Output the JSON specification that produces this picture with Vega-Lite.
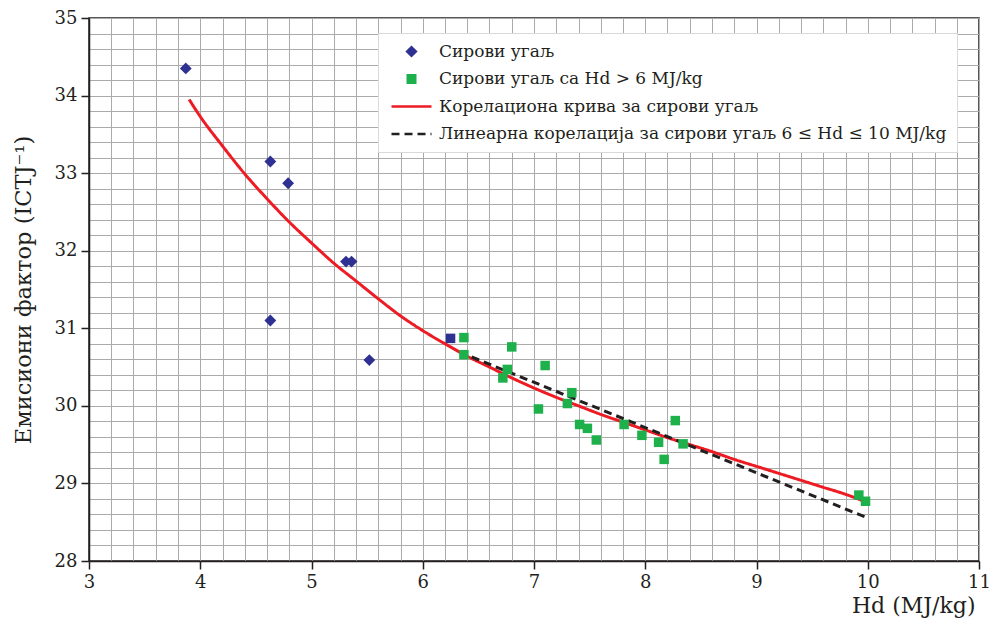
{
  "$schema": "https://vega.github.io/schema/vega-lite/v6.json",
  "width": 890,
  "height": 543,
  "autosize": {"type": "none"},
  "padding": {"left": 89, "top": 18, "right": 10, "bottom": 62},
  "background": "white",
  "config": {
    "font": "DejaVu Serif",
    "view": {"stroke": "#231f20", "strokeWidth": 1.5},
    "axis": {
      "grid": true,
      "gridColor": "#aaaaaa",
      "gridWidth": 1,
      "domainColor": "#231f20",
      "domainWidth": 1.5,
      "tickColor": "#231f20",
      "tickWidth": 1.5,
      "tickSize": 8,
      "labelFontSize": 18,
      "labelColor": "#231f20",
      "labelOverlap": false,
      "labelBound": false,
      "labelFlush": false,
      "titleFontWeight": "normal",
      "titleColor": "#231f20"
    },
    "legend": {
      "orient": "none",
      "legendX": 289,
      "legendY": 15,
      "fillColor": "white",
      "strokeColor": "#d9d9d9",
      "padding": 10,
      "labelFontSize": 17,
      "labelColor": "#231f20",
      "labelLimit": 800,
      "rowPadding": 9.5,
      "symbolSize": 900,
      "symbolStrokeWidth": 0,
      "symbolOffset": 15,
      "labelOffset": 19
    }
  },
  "datasets": {
    "pts": [
      {"x": 3.87, "y": 34.35, "series": "Сирови угаљ", "sq": false},
      {"x": 4.63, "y": 33.15, "series": "Сирови угаљ", "sq": false},
      {"x": 4.79, "y": 32.87, "series": "Сирови угаљ", "sq": false},
      {"x": 5.31, "y": 31.86, "series": "Сирови угаљ", "sq": false},
      {"x": 5.36, "y": 31.86, "series": "Сирови угаљ", "sq": false},
      {"x": 4.63, "y": 31.10, "series": "Сирови угаљ", "sq": false},
      {"x": 5.52, "y": 30.59, "series": "Сирови угаљ", "sq": false},
      {"x": 6.25, "y": 30.87, "series": "Сирови угаљ", "sq": true},
      {"x": 6.37, "y": 30.88, "series": "Сирови угаљ са Hd > 6 MJ/kg", "sq": false},
      {"x": 6.37, "y": 30.66, "series": "Сирови угаљ са Hd > 6 MJ/kg", "sq": false},
      {"x": 6.80, "y": 30.76, "series": "Сирови угаљ са Hd > 6 MJ/kg", "sq": false},
      {"x": 6.76, "y": 30.47, "series": "Сирови угаљ са Hd > 6 MJ/kg", "sq": false},
      {"x": 6.72, "y": 30.36, "series": "Сирови угаљ са Hd > 6 MJ/kg", "sq": false},
      {"x": 7.10, "y": 30.52, "series": "Сирови угаљ са Hd > 6 MJ/kg", "sq": false},
      {"x": 7.04, "y": 29.96, "series": "Сирови угаљ са Hd > 6 MJ/kg", "sq": false},
      {"x": 7.34, "y": 30.17, "series": "Сирови угаљ са Hd > 6 MJ/kg", "sq": false},
      {"x": 7.30, "y": 30.03, "series": "Сирови угаљ са Hd > 6 MJ/kg", "sq": false},
      {"x": 7.41, "y": 29.76, "series": "Сирови угаљ са Hd > 6 MJ/kg", "sq": false},
      {"x": 7.48, "y": 29.71, "series": "Сирови угаљ са Hd > 6 MJ/kg", "sq": false},
      {"x": 7.56, "y": 29.56, "series": "Сирови угаљ са Hd > 6 MJ/kg", "sq": false},
      {"x": 7.81, "y": 29.76, "series": "Сирови угаљ са Hd > 6 MJ/kg", "sq": false},
      {"x": 7.97, "y": 29.62, "series": "Сирови угаљ са Hd > 6 MJ/kg", "sq": false},
      {"x": 8.12, "y": 29.53, "series": "Сирови угаљ са Hd > 6 MJ/kg", "sq": false},
      {"x": 8.17, "y": 29.31, "series": "Сирови угаљ са Hd > 6 MJ/kg", "sq": false},
      {"x": 8.27, "y": 29.81, "series": "Сирови угаљ са Hd > 6 MJ/kg", "sq": false},
      {"x": 8.34, "y": 29.51, "series": "Сирови угаљ са Hd > 6 MJ/kg", "sq": false},
      {"x": 9.92, "y": 28.85, "series": "Сирови угаљ са Hd > 6 MJ/kg", "sq": false},
      {"x": 9.98, "y": 28.77, "series": "Сирови угаљ са Hd > 6 MJ/kg", "sq": false}
    ],
    "lines": [
      {"x": 3.9, "y": 33.95, "series": "Корелациона крива за сирови угаљ"},
      {"x": 4.0, "y": 33.73, "series": "Корелациона крива за сирови угаљ"},
      {"x": 4.2, "y": 33.35, "series": "Корелациона крива за сирови угаљ"},
      {"x": 4.4, "y": 32.99, "series": "Корелациона крива за сирови угаљ"},
      {"x": 4.6, "y": 32.67, "series": "Корелациона крива за сирови угаљ"},
      {"x": 4.8, "y": 32.37, "series": "Корелациона крива за сирови угаљ"},
      {"x": 5.0, "y": 32.10, "series": "Корелациона крива за сирови угаљ"},
      {"x": 5.2, "y": 31.84, "series": "Корелациона крива за сирови угаљ"},
      {"x": 5.4, "y": 31.61, "series": "Корелациона крива за сирови угаљ"},
      {"x": 5.6, "y": 31.38, "series": "Корелациона крива за сирови угаљ"},
      {"x": 5.8, "y": 31.16, "series": "Корелациона крива за сирови угаљ"},
      {"x": 6.0, "y": 30.97, "series": "Корелациона крива за сирови угаљ"},
      {"x": 6.2, "y": 30.80, "series": "Корелациона крива за сирови угаљ"},
      {"x": 6.4, "y": 30.64, "series": "Корелациона крива за сирови угаљ"},
      {"x": 6.6, "y": 30.50, "series": "Корелациона крива за сирови угаљ"},
      {"x": 6.8, "y": 30.36, "series": "Корелациона крива за сирови угаљ"},
      {"x": 7.0, "y": 30.23, "series": "Корелациона крива за сирови угаљ"},
      {"x": 7.2, "y": 30.11, "series": "Корелациона крива за сирови угаљ"},
      {"x": 7.4, "y": 30.00, "series": "Корелациона крива за сирови угаљ"},
      {"x": 7.6, "y": 29.89, "series": "Корелациона крива за сирови угаљ"},
      {"x": 7.8, "y": 29.79, "series": "Корелациона крива за сирови угаљ"},
      {"x": 8.0, "y": 29.69, "series": "Корелациона крива за сирови угаљ"},
      {"x": 8.2, "y": 29.59, "series": "Корелациона крива за сирови угаљ"},
      {"x": 8.4, "y": 29.50, "series": "Корелациона крива за сирови угаљ"},
      {"x": 8.6, "y": 29.41, "series": "Корелациона крива за сирови угаљ"},
      {"x": 8.8, "y": 29.31, "series": "Корелациона крива за сирови угаљ"},
      {"x": 9.0, "y": 29.22, "series": "Корелациона крива за сирови угаљ"},
      {"x": 9.2, "y": 29.13, "series": "Корелациона крива за сирови угаљ"},
      {"x": 9.4, "y": 29.04, "series": "Корелациона крива за сирови угаљ"},
      {"x": 9.6, "y": 28.95, "series": "Корелациона крива за сирови угаљ"},
      {"x": 9.8, "y": 28.86, "series": "Корелациона крива за сирови угаљ"},
      {"x": 9.95, "y": 28.78, "series": "Корелациона крива за сирови угаљ"},
      {"x": 6.44, "y": 30.63, "series": "Линеарна корелација за сирови угаљ 6 ≤ Hd ≤ 10 MJ/kg"},
      {"x": 9.99, "y": 28.56, "series": "Линеарна корелација за сирови угаљ 6 ≤ Hd ≤ 10 MJ/kg"}
    ]
  },
  "encoding": {
    "x": {
      "field": "x",
      "type": "quantitative",
      "scale": {"domain": [3, 11], "nice": false, "zero": false},
      "axis": {
        "title": "Hd (MJ/kg)",
        "titleFontSize": 22,
        "titleAnchor": "end",
        "titleX": 886,
        "titlePadding": 4,
        "labelPadding": 4,
        "values": [3,3.2,3.4,3.6,3.8,4,4.2,4.4,4.6,4.8,5,5.2,5.4,5.6,5.8,6,6.2,6.4,6.6,6.8,7,7.2,7.4,7.6,7.8,8,8.2,8.4,8.6,8.8,9,9.2,9.4,9.6,9.8,10,10.2,10.4,10.6,10.8,11],
        "labelExpr": "abs(datum.value - round(datum.value)) < 0.01 ? format(datum.value, 'd') : ''",
        "tickOpacity": {"condition": {"test": "abs(datum.value - round(datum.value)) < 0.01", "value": 1}, "value": 0}
      }
    },
    "y": {
      "field": "y",
      "type": "quantitative",
      "scale": {"domain": [28, 35], "nice": false, "zero": false},
      "axis": {
        "title": "Емисиони фактор (ICTJ⁻¹)",
        "titleFontSize": 22.5,
        "titlePadding": 19,
        "labelPadding": 4,
        "values": [28,28.2,28.4,28.6,28.8,29,29.2,29.4,29.6,29.8,30,30.2,30.4,30.6,30.8,31,31.2,31.4,31.6,31.8,32,32.2,32.4,32.6,32.8,33,33.2,33.4,33.6,33.8,34,34.2,34.4,34.6,34.8,35],
        "labelExpr": "abs(datum.value - round(datum.value)) < 0.01 ? format(datum.value, 'd') : ''",
        "tickOpacity": {"condition": {"test": "abs(datum.value - round(datum.value)) < 0.01", "value": 1}, "value": 0}
      }
    }
  },
  "layer": [
    {
      "data": {"name": "lines"},
      "mark": {"type": "line", "strokeWidth": 3, "interpolate": "monotone"},
      "encoding": {
        "color": {"field": "series", "type": "nominal"},
        "strokeDash": {
          "field": "series",
          "type": "nominal",
          "scale": {
            "domain": ["Сирови угаљ", "Сирови угаљ са Hd > 6 MJ/kg", "Корелациона крива за сирови угаљ", "Линеарна корелација за сирови угаљ 6 ≤ Hd ≤ 10 MJ/kg"],
            "range": [[1, 0], [1, 0], [1, 0], [8, 5]]
          },
          "legend": {
            "title": null,
            "encode": {
              "symbols": {
                "update": {
                  "size": {"signal": "datum.index == 0 ? 150 : (datum.index == 1 ? 100 : 1600)"},
                  "fill": {"scale": "color", "field": "value"},
                  "stroke": {"scale": "color", "field": "value"},
                  "strokeWidth": {"signal": "datum.index < 2 ? 0 : 2.5"},
                  "opacity": {"value": 1}
                }
              }
            }
          }
        },
        "detail": {"field": "series"}
      }
    },
    {
      "data": {"name": "pts"},
      "transform": [{"filter": "!datum.sq"}],
      "mark": {"type": "point", "filled": true, "opacity": 1},
      "encoding": {
        "color": {
          "field": "series",
          "type": "nominal",
          "scale": {
            "domain": ["Сирови угаљ", "Сирови угаљ са Hd > 6 MJ/kg", "Корелациона крива за сирови угаљ", "Линеарна корелација за сирови угаљ 6 ≤ Hd ≤ 10 MJ/kg"],
            "range": ["#2e3192", "#1db04b", "#ed1c24", "#231f20"]
          },
          "legend": {
            "title": null,
            "encode": {
              "symbols": {
                "update": {
                  "size": {"signal": "datum.index == 0 ? 150 : (datum.index == 1 ? 100 : 1600)"},
                  "fill": {"scale": "color", "field": "value"},
                  "stroke": {"scale": "color", "field": "value"},
                  "strokeWidth": {"signal": "datum.index < 2 ? 0 : 2.5"},
                  "opacity": {"value": 1}
                }
              }
            }
          }
        },
        "shape": {
          "field": "series",
          "type": "nominal",
          "scale": {
            "domain": ["Сирови угаљ", "Сирови угаљ са Hd > 6 MJ/kg", "Корелациона крива за сирови угаљ", "Линеарна корелација за сирови угаљ 6 ≤ Hd ≤ 10 MJ/kg"],
            "range": ["diamond", "square", "stroke", "stroke"]
          },
          "legend": {
            "title": null,
            "encode": {
              "symbols": {
                "update": {
                  "size": {"signal": "datum.index == 0 ? 150 : (datum.index == 1 ? 100 : 1600)"},
                  "fill": {"scale": "color", "field": "value"},
                  "stroke": {"scale": "color", "field": "value"},
                  "strokeWidth": {"signal": "datum.index < 2 ? 0 : 2.5"},
                  "opacity": {"value": 1}
                }
              }
            }
          }
        },
        "size": {"condition": {"test": "datum.series === 'Сирови угаљ'", "value": 140}, "value": 90}
      }
    },
    {
      "data": {"name": "pts"},
      "transform": [{"filter": "datum.sq"}],
      "mark": {"type": "point", "filled": true, "opacity": 1, "shape": "square", "color": "#2e3192", "size": 90},
      "encoding": {}
    }
  ]
}
